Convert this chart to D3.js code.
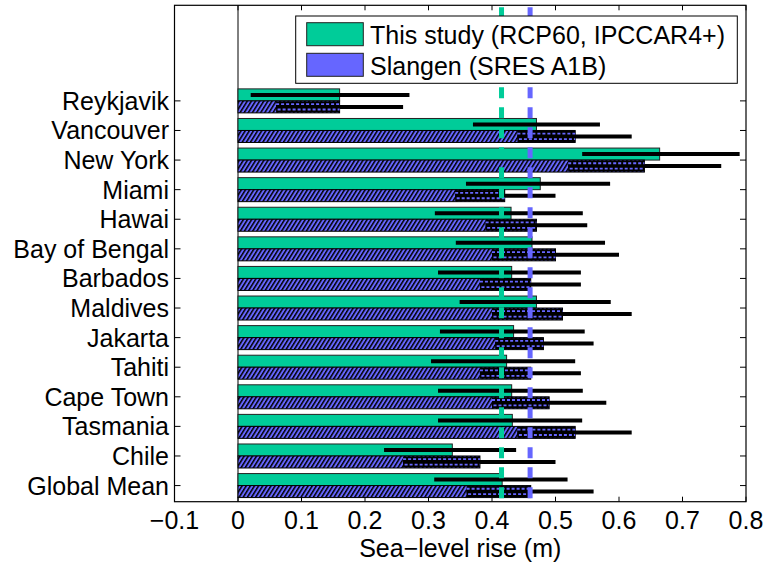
<!DOCTYPE html>
<html>
<head>
<meta charset="utf-8">
<script src="https://cdn.jsdelivr.net/npm/d3@7"></script>
<style>
html,body{margin:0;padding:0;background:#fff;}
svg{display:block;}
text{font-family:"Liberation Sans",Arial,Helvetica,sans-serif;fill:#000;}
</style>
</head>
<body>
<svg id="chart" width="764" height="567"></svg>
<script>
const categories = ["Reykjavik","Vancouver","New York","Miami","Hawai","Bay of Bengal","Barbados","Maldives","Jakarta","Tahiti","Cape Town","Tasmania","Chile","Global Mean"];
const thisStudy = [0.16,0.47,0.664,0.476,0.43,0.463,0.431,0.47,0.434,0.423,0.431,0.432,0.3375,0.416];
const thisLow   = [0.02,0.37,0.542,0.359,0.31,0.343,0.315,0.349,0.318,0.304,0.315,0.315,0.23,0.309];
const thisHigh  = [0.27,0.57,0.79,0.586,0.543,0.578,0.54,0.587,0.546,0.531,0.543,0.542,0.438,0.519];
const slangen   = [0.16,0.531,0.64,0.42,0.47,0.50,0.461,0.511,0.481,0.461,0.49,0.531,0.381,0.461];
const slLow     = [0.06,0.44,0.52,0.342,0.39,0.40,0.381,0.40,0.405,0.381,0.40,0.44,0.26,0.36];
const slHigh    = [0.26,0.62,0.761,0.50,0.55,0.60,0.54,0.62,0.56,0.54,0.58,0.62,0.50,0.56];
const meanThis = 0.415;
const meanSlangen = 0.46;
const xTicks = [-0.1,0,0.1,0.2,0.3,0.4,0.5,0.6,0.7,0.8];
const xTickLabels = ["\u22120.1","0","0.1","0.2","0.3","0.4","0.5","0.6","0.7","0.8"];
const legendLabels = ["This study (RCP60, IPCCAR4+)","Slangen (SRES A1B)"];
const xLabel = "Sea\u2212level rise (m)";

const GREEN = "#00CC99", BLUE = "#6666FF";
const svg = d3.select("#chart");
const L = 174.5, R = 746, T = 5.3, B = 501.7;
const x = d3.scaleLinear().domain([-0.1, 0.8]).range([L, R]);
// index 0 = top category (Reykjavik) ... 13 = Global Mean
const n = categories.length;
const y = d3.scaleLinear().domain([-3.23, n - 1 + 0.545]).range([T, B]);
const BH = 12;

const defs = svg.append("defs");
const pat = defs.append("pattern").attr("id","hatch").attr("patternUnits","userSpaceOnUse")
  .attr("width",3.5).attr("height",10).attr("patternTransform","rotate(32)");
pat.append("rect").attr("width",3.5).attr("height",10).attr("fill",BLUE);
pat.append("rect").attr("x",0).attr("width",1.5).attr("height",10).attr("fill","#000");

// zero line
svg.append("line").attr("x1",x(0)).attr("x2",x(0)).attr("y1",T).attr("y2",B)
  .attr("stroke","#000").attr("stroke-width",1);

const idx = d3.range(n);
// green bars
svg.append("g").selectAll("rect").data(idx).join("rect")
  .attr("x", x(0)).attr("y", i => y(i) - BH)
  .attr("width", i => x(thisStudy[i]) - x(0)).attr("height", BH)
  .attr("fill", GREEN).attr("stroke","#222").attr("stroke-width",1);
// blue hatched bars
svg.append("g").selectAll("rect").data(idx).join("rect")
  .attr("x", x(0)).attr("y", i => y(i))
  .attr("width", i => x(slangen[i]) - x(0)).attr("height", BH)
  .attr("fill", "url(#hatch)").attr("stroke","#000").attr("stroke-width",1);

// error bars green
svg.append("g").selectAll("line").data(idx).join("line")
  .attr("x1", i => x(thisLow[i])).attr("x2", i => x(thisHigh[i]))
  .attr("y1", i => y(i) - BH/2).attr("y2", i => y(i) - BH/2)
  .attr("stroke","#000").attr("stroke-width",4);
// error bars blue
svg.append("g").selectAll("line").data(idx).join("line")
  .attr("x1", i => x(slLow[i])).attr("x2", i => x(slHigh[i]))
  .attr("y1", i => y(i) + BH/2).attr("y2", i => y(i) + BH/2)
  .attr("stroke","#000").attr("stroke-width",4);
// overlap pattern inside blue bars
const ov = svg.append("g");
idx.forEach(i => {
  const a = x(Math.max(slLow[i],0)), b = x(slangen[i]);
  if (b > a) {
    ov.append("rect").attr("x",a).attr("y",y(i)+0.5).attr("width",b-a).attr("height",BH-1).attr("fill","#000");
    [3.2, 8.6].forEach((dy,k) => {
      ov.append("line").attr("x1",a+ (k?1.5:0)).attr("x2",b).attr("y1",y(i)+dy).attr("y2",y(i)+dy)
        .attr("stroke",BLUE).attr("stroke-width",1.8).attr("stroke-dasharray","3,2");
    });
  }
});

// vertical mean lines
[[meanThis,GREEN],[meanSlangen,BLUE]].forEach(([v,c]) => {
  svg.append("line").attr("x1",x(v)).attr("x2",x(v)).attr("y1",T).attr("y2",B)
    .attr("stroke",c).attr("stroke-width",5).attr("stroke-dasharray","11,9").attr("stroke-dashoffset",-2);
});

// box
svg.append("rect").attr("x",L).attr("y",T).attr("width",R-L).attr("height",B-T)
  .attr("fill","none").attr("stroke","#000").attr("stroke-width",1.2);

// x ticks (bottom & top, inward)
const xt = svg.append("g");
xTicks.forEach((v,k) => {
  xt.append("line").attr("x1",x(v)).attr("x2",x(v)).attr("y1",B).attr("y2",B-5).attr("stroke","#000");
  xt.append("line").attr("x1",x(v)).attr("x2",x(v)).attr("y1",T).attr("y2",T+5).attr("stroke","#000");
  xt.append("text").attr("x",x(v)).attr("y",529).attr("text-anchor","middle")
    .attr("font-size",25).text(xTickLabels[k]);
});
// y ticks & labels
const yt = svg.append("g");
idx.forEach(i => {
  yt.append("line").attr("x1",L).attr("x2",L+6).attr("y1",y(i)).attr("y2",y(i)).attr("stroke","#000");
  yt.append("line").attr("x1",R).attr("x2",R-6).attr("y1",y(i)).attr("y2",y(i)).attr("stroke","#000");
  yt.append("text").attr("x",169).attr("y",y(i)+9).attr("text-anchor","end")
    .attr("font-size",25).text(categories[i]);
});
svg.append("text").attr("x",(L+R)/2).attr("y",557).attr("text-anchor","middle")
  .attr("font-size",25).text(xLabel);

// legend
const lg = svg.append("g");
lg.append("rect").attr("x",295.7).attr("y",16).attr("width",441.6).attr("height",67.3)
  .attr("fill","#fff").attr("stroke","#000").attr("stroke-width",1);
[[GREEN,22.7,44.3],[BLUE,53.3,74.8]].forEach(([c,yy,base],k) => {
  lg.append("rect").attr("x",306.7).attr("y",yy).attr("width",56.6).attr("height",23)
    .attr("fill",c).attr("stroke","#222").attr("stroke-width",1);
  lg.append("text").attr("x",370).attr("y",base).attr("font-size",25).text(legendLabels[k]);
});
</script>
</body>
</html>
